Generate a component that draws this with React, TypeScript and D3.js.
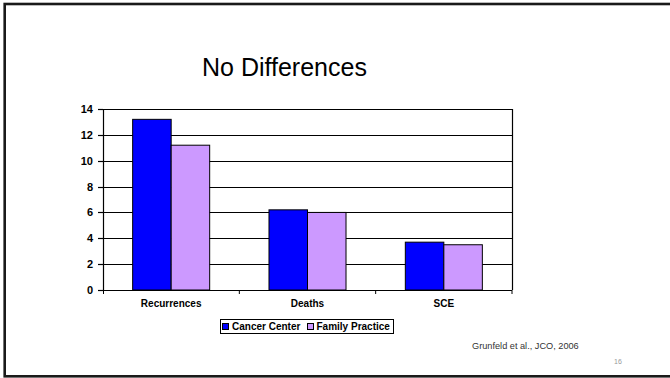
import React from "react";
import * as d3 from "d3";

const categories = ["Recurrences", "Deaths", "SCE"];
const seriesNames = ["Cancer Center", "Family Practice"];
const cancerCenter = [13.2, 6.2, 3.7];
const familyPractice = [11.2, 6.0, 3.5];
const yTicks = [0, 2, 4, 6, 8, 10, 12, 14];
const colors = ["#0000FF", "#CC99FF"];

const W = 670;
const H = 378;
const plot = { left: 103, right: 512, top: 109, bottom: 290 };

export default function App() {
  const x0 = d3.scaleBand<string>().domain(categories).range([plot.left, plot.right]).paddingInner(0).paddingOuter(0);
  const x1 = d3.scaleBand<string>().domain(seriesNames).range([0, x0.bandwidth()]).paddingInner(0).paddingOuter(0.77);
  const y = d3.scaleLinear().domain([0, 14]).range([plot.bottom, plot.top]);
  const series = [cancerCenter, familyPractice];
  const font = "'Liberation Sans', Arial, sans-serif";

  return (
    <svg width={W} height={H} style={{ position: "absolute", left: 0, top: 0, background: "#fff" }} fontFamily={font}>
      <rect x={0} y={0} width={W} height={H} fill="#fff" />
      {/* slide frame */}
      <rect x={4.7} y={4} width={W + 10} height={372.3} fill="none" stroke="#1a1a1a" strokeWidth={2.6} />
      {/* title */}
      <text x={202} y={76} fontSize={25} fill="#000">No Differences</text>
      {/* gridlines */}
      {yTicks.map((t) => (
        <line key={"g" + t} x1={plot.left} x2={plot.right} y1={Math.round(y(t)) + 0.5} y2={Math.round(y(t)) + 0.5} stroke="#000" strokeWidth={1.2} />
      ))}
      {/* right border */}
      <line x1={plot.right + 0.5} x2={plot.right + 0.5} y1={plot.top} y2={plot.bottom} stroke="#000" strokeWidth={1.2} />
      {/* bars */}
      {categories.map((c, i) => (
        <g key={c}>
          {series.map((s, j) => (
            <rect
              key={j}
              x={(x0(c) as number) + (x1(seriesNames[j]) as number)}
              y={y(s[i])}
              width={x1.bandwidth()}
              height={plot.bottom - y(s[i])}
              fill={colors[j]}
              stroke="#000"
              strokeWidth={1}
            />
          ))}
        </g>
      ))}
      {/* y axis */}
      <line x1={plot.left + 0.5} x2={plot.left + 0.5} y1={plot.top} y2={plot.bottom} stroke="#000" strokeWidth={1.2} />
      {yTicks.map((t) => (
        <g key={"t" + t}>
          <line x1={plot.left - 5} x2={plot.left} y1={Math.round(y(t)) + 0.5} y2={Math.round(y(t)) + 0.5} stroke="#000" strokeWidth={1.2} />
          <text x={93} y={y(t) + 4} textAnchor="end" fontSize={11} fontWeight="bold" fill="#000">{t}</text>
        </g>
      ))}
      {/* x axis */}
      <line x1={plot.left} x2={plot.right} y1={plot.bottom + 0.5} y2={plot.bottom + 0.5} stroke="#000" strokeWidth={1.2} />
      {categories.map((c) => (
        <g key={"x" + c}>
          <line x1={(x0(c) as number) + x0.bandwidth()} x2={(x0(c) as number) + x0.bandwidth()} y1={plot.bottom} y2={plot.bottom + 4} stroke="#000" strokeWidth={1} />
          <text x={(x0(c) as number) + x0.bandwidth() / 2} y={307} textAnchor="middle" fontSize={10} fontWeight="bold" fill="#000">{c}</text>
        </g>
      ))}
      <line x1={plot.left + 0.5} x2={plot.left + 0.5} y1={plot.bottom} y2={plot.bottom + 4} stroke="#000" strokeWidth={1} />
      {/* legend */}
      <rect x={220.5} y={319.5} width={173} height={14} fill="#fff" stroke="#000" strokeWidth={1} />
      <rect x={222.5} y={323.5} width={6} height={6} fill={colors[0]} stroke="#000" strokeWidth={1} />
      <text x={232} y={330} fontSize={10} fontWeight="bold" fill="#000">{seriesNames[0]}</text>
      <rect x={307.5} y={323.5} width={6} height={6} fill={colors[1]} stroke="#000" strokeWidth={1} />
      <text x={316.5} y={330} fontSize={10} fontWeight="bold" fill="#000">{seriesNames[1]}</text>
      {/* source */}
      <text x={472} y={349} fontSize={9.2} fill="#333">Grunfeld et al., JCO, 2006</text>
      <text x={614} y={364} fontSize={7} fill="#999">16</text>
    </svg>
  );
}
